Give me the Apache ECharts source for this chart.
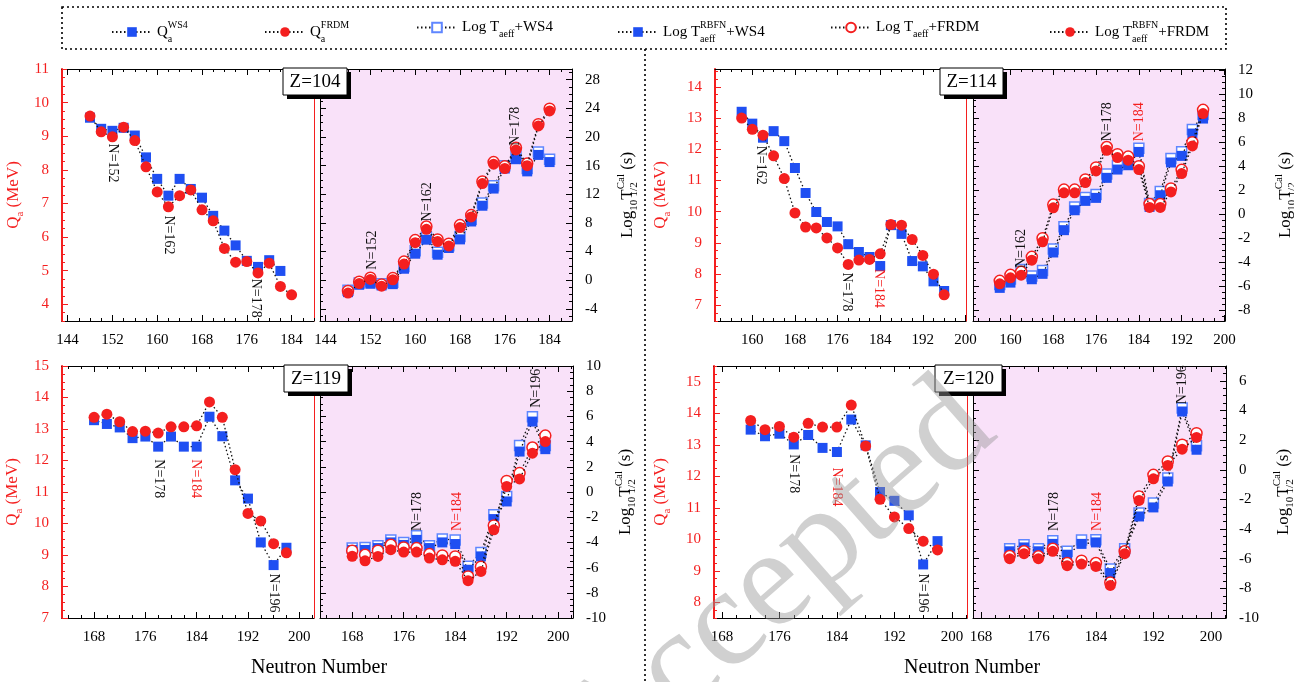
<!DOCTYPE html>
<html><head><meta charset="utf-8">
<script src="https://cdn.jsdelivr.net/npm/echarts@6/dist/echarts.min.js"></script>
<style>html,body{margin:0;padding:0;background:#fff}#c{width:1294px;height:682px}</style>
</head><body><div id="c"></div>
<script>
// ---------------- DATA ----------------
const N104 = [148,150,152,154,156,158,160,162,164,166,168,170,172,174,176,178,180,182,184];
const Q104_WS4  = [9.55,9.22,9.16,9.25,9.02,8.37,7.73,7.23,7.73,7.43,7.17,6.63,6.19,5.75,5.29,5.11,5.31,4.99,null];
const Q104_FRDM = [9.60,9.13,8.98,9.27,8.87,8.09,7.34,6.90,7.23,7.40,6.81,6.48,5.66,5.25,5.27,4.93,5.22,4.53,4.28];
const T104_aWS4  = [-1.4,-0.4,-0.2,-0.5,-0.3,1.9,4.1,6.0,3.9,4.8,6.1,8.5,10.8,13.2,16.0,17.3,15.6,17.9,16.9];
const T104_rWS4  = [-1.67,-0.64,-0.5,-0.74,-0.55,1.6,3.7,5.66,3.56,4.5,5.7,8.2,10.4,12.8,15.6,16.9,15.2,17.5,16.5];
const T104_aFRDM = [-1.5,-0.2,0.35,-0.6,0.3,2.6,5.6,7.5,5.7,5.1,7.7,9.1,13.8,16.5,15.9,18.5,16.3,21.8,23.95];
const T104_rFRDM = [-1.8,-0.46,0.1,-0.83,0.06,2.25,5.24,7.1,5.4,4.78,7.35,8.84,13.5,16.2,15.6,18.2,16.0,21.55,23.65];

const N114 = [158,160,162,164,166,168,170,172,174,176,178,180,182,184,186,188,190,192,194,196];
const Q114_WS4  = [13.2,12.82,12.37,12.58,12.26,11.4,10.6,9.99,9.67,9.53,8.96,8.71,8.55,8.26,9.57,9.29,8.42,8.25,7.77,7.46];
const Q114_FRDM = [13.0,12.64,12.45,11.79,11.06,9.96,9.51,9.48,9.16,8.84,8.31,8.45,8.47,8.65,9.59,9.57,9.11,8.6,8.0,7.34];
const T114_aWS4  = [-5.85,-5.4,-4.6,-5.15,-4.7,-2.9,-1.05,0.6,1.4,1.65,3.35,4.05,4.4,5.5,0.9,1.9,4.65,5.2,7.05,8.3];
const T114_rWS4  = [-6.14,-5.7,-4.94,-5.42,-4.97,-3.19,-1.33,0.33,1.11,1.36,3.03,3.72,4.08,5.19,0.61,1.58,4.31,4.86,6.72,7.97];
const T114_aFRDM = [-5.55,-5.05,-4.8,-3.55,-2.0,0.8,2.05,2.05,2.9,3.9,5.6,5.0,4.8,4.0,0.85,0.85,2.15,3.7,6.0,8.7];
const T114_rFRDM = [-5.8,-5.3,-5.08,-3.83,-2.3,0.53,1.78,1.78,2.64,3.61,5.33,4.72,4.5,3.72,0.56,0.56,1.86,3.39,5.69,8.39];

const N119 = [168,170,172,174,176,178,180,182,184,186,188,190,192,194,196,198];
const Q119_WS4  = [13.28,13.16,13.05,12.71,12.76,12.44,12.76,12.44,12.44,13.39,12.77,11.37,10.79,9.4,8.68,9.23];
const Q119_FRDM = [13.37,13.47,13.23,12.92,12.93,12.87,13.07,13.07,13.1,13.86,13.37,11.71,10.32,10.08,9.36,9.07];
const T119_aWS4  = [-4.45,-4.4,-4.27,-3.8,-4.0,-3.47,-4.27,-3.74,-3.8,-5.9,-4.8,-1.81,-0.36,3.69,5.98,3.69];
const T119_rWS4  = [-4.6,-4.6,-4.45,-4.0,-4.2,-3.8,-4.45,-4.0,-4.13,-6.17,-5.11,-2.15,-0.75,3.21,5.59,3.4];
const T119_aFRDM = [-4.66,-4.98,-4.66,-4.19,-4.4,-4.45,-4.93,-5.03,-5.11,-6.7,-5.93,-2.65,0.88,1.5,3.53,4.48];
const T119_rFRDM = [-5.1,-5.46,-5.11,-4.58,-4.77,-4.77,-5.24,-5.38,-5.5,-7.04,-6.3,-3.0,0.44,1.04,3.08,4.0];

const N120 = [172,174,176,178,180,182,184,186,188,190,192,194,196,198];
const Q120_WS4  = [13.48,13.27,13.35,13.01,13.31,12.9,12.77,13.8,12.98,11.5,11.22,10.76,9.2,9.94];
const Q120_FRDM = [13.77,13.48,13.58,13.24,13.68,13.56,13.56,14.26,12.96,11.27,10.71,10.34,9.94,9.66];
const T120_aWS4  = [-5.33,-5.06,-5.33,-4.79,-5.5,-4.74,-4.72,-6.7,-5.33,-2.92,-2.25,-0.56,4.16,1.62];
const T120_rWS4  = [-5.5,-5.24,-5.5,-5.0,-5.73,-5.0,-4.9,-6.97,-5.5,-3.15,-2.54,-0.79,3.93,1.35];
const T120_aFRDM = [-5.82,-5.5,-5.84,-5.33,-6.29,-6.13,-6.29,-7.6,-5.5,-1.8,-0.34,0.56,1.69,2.47];
const T120_rFRDM = [-6.0,-5.66,-6.0,-5.5,-6.47,-6.36,-6.52,-7.8,-5.66,-2.07,-0.61,0.29,1.39,2.18];

// tick labels
const xTicks104 = [144,152,160,168,176,184];
const xTicks114 = [160,168,176,184,192,200];
const xTicks119 = [168,176,184,192,200];
const xTicks120 = [168,176,184,192,200];
const qTicks104 = [4,5,6,7,8,9,10,11];
const qTicks114 = [7,8,9,10,11,12,13,14];
const qTicks119 = [7,8,9,10,11,12,13,14,15];
const qTicks120 = [8,9,10,11,12,13,14,15];
const tTicks104 = [-4,0,4,8,12,16,20,24,28];
const tTicks114 = [-8,-6,-4,-2,0,2,4,6,8,10,12];
const tTicks119 = [-10,-8,-6,-4,-2,0,2,4,6,8,10];
const tTicks120 = [-10,-8,-6,-4,-2,0,2,4,6];

// magic-number annotations [N, y, text, isRed]
const ann104L = [[152,8.2,'N=152',0],[162,6.06,'N=162',0],[177.6,4.18,'N=178',0]];
const ann104R = [[152.3,4.2,'N=152',0],[162.2,10.94,'N=162',0],[177.9,21.5,'N=178',0]];
const ann114L = [[161.6,11.49,'N=162',0],[177.7,7.43,'N=178',0],[183.7,7.54,'N=184',1]];
const ann114R = [[162,-2.86,'N=162',0],[178.2,7.7,'N=178',0],[184.1,7.7,'N=184',1]];
const ann119L = [[178,11.42,'N=178',0],[183.9,11.42,'N=184',1],[196.06,7.79,'N=196',0]];
const ann119R = [[178.07,-1.55,'N=178',0],[184.4,-1.55,'N=184',1],[196.6,8.23,'N=196',0]];
const ann120L = [[178,12.08,'N=178',0],[184,11.66,'N=184',1],[196,8.29,'N=196',0]];
const ann120R = [[178.2,-2.81,'N=178',0],[184.2,-2.81,'N=184',1],[196.05,5.73,'N=196',0]];

const seriesNames = ['QWS4','QFRDM','TaWS4','TrWS4','TaFRDM','TrFRDM'];
const legendTexts = ['{m|Q}{z|a}{p|WS4}','{m|Q}{z|a}{p|FRDM}','{m|Log T}{s|aeff}{m|+WS4}',
  '{m|Log T}{z|aeff}{p|RBFN}{m|+WS4}','{m|Log T}{s|aeff}{m|+FRDM}','{m|Log T}{z|aeff}{p|RBFN}{m|+FRDM}'];

// ---------------- STYLE / LAYOUT ----------------
const SERIF = '"Liberation Serif","DejaVu Serif","Times New Roman",serif';
const RED = '#f41f1f', BLUE = '#1f4ff2', BLUE_OPEN = '#5f86ff', PINK = '#f9e1f9';
function rich(color, big, small, lh) {
  return {
    m:{fontSize:big, fontFamily:SERIF, color, lineHeight:lh, verticalAlign:'middle'},
    p:{fontSize:small, fontFamily:SERIF, color, lineHeight:small+2, verticalAlign:'top'},
    s:{fontSize:small, fontFamily:SERIF, color, lineHeight:small+2, verticalAlign:'bottom'},
    z:{fontSize:small, fontFamily:SERIF, color, lineHeight:small+2, verticalAlign:'bottom', width:0.01}
  };
}
function steps(a,b,s){const r=[];for(let v=Math.ceil(a/s-1e-9)*s;v<=b+1e-9;v+=s)r.push(+v.toFixed(4));return r;}

const panels = [
 {label:'Z=104', box:[283,68,64,27], N:N104, xr:[143,188], xt:xTicks104,
  L:{pos:[62,69,252,252], yr:[3.5,11], yt:qTicks104, ym:0.25, gap:36, d:[Q104_WS4,Q104_FRDM], ann:ann104L},
  R:{pos:[320,69,252,252], yr:[-5.7,29.5], yt:tTicks104, ym:1, gap:44, d:[T104_aWS4,T104_rWS4,T104_aFRDM,T104_rFRDM], ann:ann104R}},
 {label:'Z=114', box:[940,68,63,27], N:N114, xr:[153,200.1], xt:xTicks114,
  L:{pos:[715,69,251,252], yr:[6.5,14.57], yt:qTicks114, ym:0.25, gap:42, d:[Q114_WS4,Q114_FRDM], ann:ann114L},
  R:{pos:[973,69,252,252], yr:[-8.9,12.1], yt:tTicks114, ym:0.5, gap:49, d:[T114_aWS4,T114_rWS4,T114_aFRDM,T114_rFRDM], ann:ann114R}},
 {label:'Z=119', box:[284,365,64,27], N:N119, xr:[163,202.3], xt:xTicks119,
  L:{pos:[62,366,252,252], yr:[7,15], yt:qTicks119, ym:0.25, gap:37, d:[Q119_WS4,Q119_FRDM], ann:ann119L},
  R:{pos:[320,366,253,252], yr:[-10,10], yt:tTicks119, ym:0.5, gap:41, d:[T119_aWS4,T119_rWS4,T119_aFRDM,T119_rFRDM], ann:ann119R}},
 {label:'Z=120', box:[935,365,67,27], N:N120, xr:[166.9,202.1], xt:xTicks120,
  L:{pos:[714,366,253,252], yr:[7.5,15.5], yt:qTicks120, ym:0.25, gap:41, d:[Q120_WS4,Q120_FRDM], ann:ann120L},
  R:{pos:[973,366,253,252], yr:[-10,7], yt:tTicks120, ym:0.5, gap:46, d:[T120_aWS4,T120_rWS4,T120_aFRDM,T120_rFRDM], ann:ann120R}}
];

const seriesStyle = {
  QWS4:  {symbol:'rect', symbolSize:10, itemStyle:{color:BLUE}},
  QFRDM: {symbol:'circle', symbolSize:11, itemStyle:{color:RED}},
  TaWS4: {symbol:'rect', symbolSize:10, itemStyle:{color:'#ffffff', borderColor:BLUE_OPEN, borderWidth:1.5}},
  TrWS4: {symbol:'rect', symbolSize:10, itemStyle:{color:BLUE}},
  TaFRDM:{symbol:'circle', symbolSize:11, itemStyle:{color:'#ffffff', borderColor:RED, borderWidth:1.5}},
  TrFRDM:{symbol:'circle', symbolSize:11, itemStyle:{color:RED}}
};
const LINE = {color:'#111', width:1.3, type:[1.5,2.5]};

const grids=[], xAxes=[], yAxes=[], series=[], graphics=[];

function tickAxis(kind, gi, range, pos, vals, len, color, lineShow, lineW, labels, extra){
  const a = Object.assign({gridIndex:gi, type:'value', min:range[0], max:range[1], position:pos,
    splitLine:{show:false},
    axisLine:{show:lineShow, onZero:false, lineStyle:{color, width:lineW}},
    axisTick:{show:vals.length>0, inside:true, length:len, customValues:vals, lineStyle:{color, width:1}},
    axisLabel:labels ? Object.assign({show:true, customValues:vals, fontFamily:SERIF, fontSize:15}, labels) : {show:false}
  }, extra||{});
  const arr = kind==='x'?xAxes:yAxes; arr.push(a); return arr.length-1;
}

panels.forEach(P=>{
  ['L','R'].forEach(side=>{
    const S = P[side];
    const gi = grids.length;
    grids.push({left:S.pos[0], top:S.pos[1], width:S.pos[2], height:S.pos[3], show:side==='R',
      backgroundColor: side==='R'?PINK:'transparent', borderWidth:0, containLabel:false, outerBoundsMode:'none'});
    const xMin = steps(P.xr[0],P.xr[1],2);
    const xi = tickAxis('x',gi,P.xr,'bottom',P.xt,6,'#000',true,1,{color:'#000', margin:12});
    tickAxis('x',gi,P.xr,'bottom',xMin,3,'#000',false,1,null);
    tickAxis('x',gi,P.xr,'top',P.xt,6,'#000',true,1,null);
    tickAxis('x',gi,P.xr,'top',xMin,3,'#000',false,1,null);
    const yMin = steps(S.yr[0],S.yr[1],S.ym);
    let yi;
    if (side==='L'){
      yi = tickAxis('y',gi,S.yr,'left',S.yt,6,RED,true,2,{color:RED, margin:13},
        {name:'{m|Q}{s|a}{m| (MeV)}', nameLocation:'middle', nameRotate:90, nameGap:S.gap,
         nameTextStyle:{color:RED, fontFamily:SERIF, fontSize:17, rich:rich(RED,17,11,24)}});
      tickAxis('y',gi,S.yr,'left',yMin,3,RED,false,1,null);
      tickAxis('y',gi,S.yr,'right',[],3,RED,true,1,null);
    } else {
      yi = tickAxis('y',gi,S.yr,'right',S.yt,6,'#000',true,1,{color:'#000', margin:13},
        {name:'{m|Log}{s|10}{m|T}{z|1/2}{p|Cal}{m| (s)}', nameLocation:'middle', nameRotate:90, nameGap:S.gap,
         nameTextStyle:{color:'#000', fontFamily:SERIF, fontSize:17, rich:rich('#000',17,11,24)}});
      tickAxis('y',gi,S.yr,'right',yMin,3,'#000',false,1,null);
      tickAxis('y',gi,S.yr,'left',S.yt,6,'#000',true,1,null);
      tickAxis('y',gi,S.yr,'left',yMin,3,'#000',false,1,null);
    }
    const names = side==='L' ? ['QWS4','QFRDM'] : ['TaWS4','TrWS4','TaFRDM','TrFRDM'];
    names.forEach((nm,k)=>{
      const s = Object.assign({name:nm, type:'line', xAxisIndex:xi, yAxisIndex:yi,
        data:P.N.map((n,i)=>[n,S.d[k][i]]), lineStyle:LINE, connectNulls:false, z:2+k,
        animation:false, emphasis:{disabled:true}}, seriesStyle[nm]);
      if (k===0){
        s.markPoint = {symbol:'circle', symbolSize:1, itemStyle:{color:'rgba(0,0,0,0)'}, silent:true, animation:false,
          data:S.ann.map(a=>({coord:[a[0],a[1]], value:a[2],
            label:{show:true, position:'inside', formatter:a[2], rotate: side==='L'?-90:90,
              color:a[3]?RED:'#111', fontSize:14, fontFamily:SERIF}}))};
      }
      series.push(s);
    });
  });
  // Z label box with shadow
  const b = P.box;
  graphics.push({type:'rect', shape:{x:b[0]+4,y:b[1]+4,width:b[2],height:b[3]}, style:{fill:'#000'}, z:50});
  graphics.push({type:'rect', shape:{x:b[0],y:b[1],width:b[2],height:b[3]}, style:{fill:'#fff', stroke:'#000', lineWidth:1}, z:51});
  graphics.push({type:'text', x:b[0]+b[2]/2, y:b[1]+b[3]/2+1, style:{text:P.label, fontFamily:SERIF, fontSize:19, fill:'#000', textAlign:'center', textVerticalAlign:'middle'}, z:52});
});

// frame decorations
graphics.push({type:'rect', shape:{x:62,y:7,width:1164,height:42}, style:{fill:'none', stroke:'#000', lineWidth:1.6, lineDash:[2,3]}, z:1});
graphics.push({type:'line', shape:{x1:645,y1:49,x2:645,y2:682}, style:{stroke:'#000', lineWidth:1.6, lineDash:[2,3]}, z:1});
graphics.push({type:'text', x:319, y:668, style:{text:'Neutron Number', fontFamily:SERIF, fontSize:20, fill:'#000', textAlign:'center', textVerticalAlign:'middle'}});
graphics.push({type:'text', x:972, y:668, style:{text:'Neutron Number', fontFamily:SERIF, fontSize:20, fill:'#000', textAlign:'center', textVerticalAlign:'middle'}});
graphics.push({type:'text', x:579, y:758, rotation:41.4*Math.PI/180, silent:true,
  style:{text:'Accepted', fontFamily:SERIF, fontSize:140, fill:'rgba(150,150,150,0.45)', textAlign:'left', textVerticalAlign:'middle'}, z:100});

const legendLeft = [106,259,411,612,825,1044];
const legends = seriesNames.map((nm,i)=>({data:[nm], left:legendLeft[i], top:15, itemWidth:40, itemHeight:12,
  selectedMode:false, formatter:()=>legendTexts[i], textStyle:{fontFamily:SERIF, fontSize:15, color:'#000', rich:rich('#000',15,10,24)}}));

const chart = echarts.init(document.getElementById('c'), null, {renderer:'canvas'});
chart.setOption({animation:false, backgroundColor:'#fff', grid:grids, xAxis:xAxes, yAxis:yAxes, series, legend:legends, graphic:graphics});
</script></body></html>
